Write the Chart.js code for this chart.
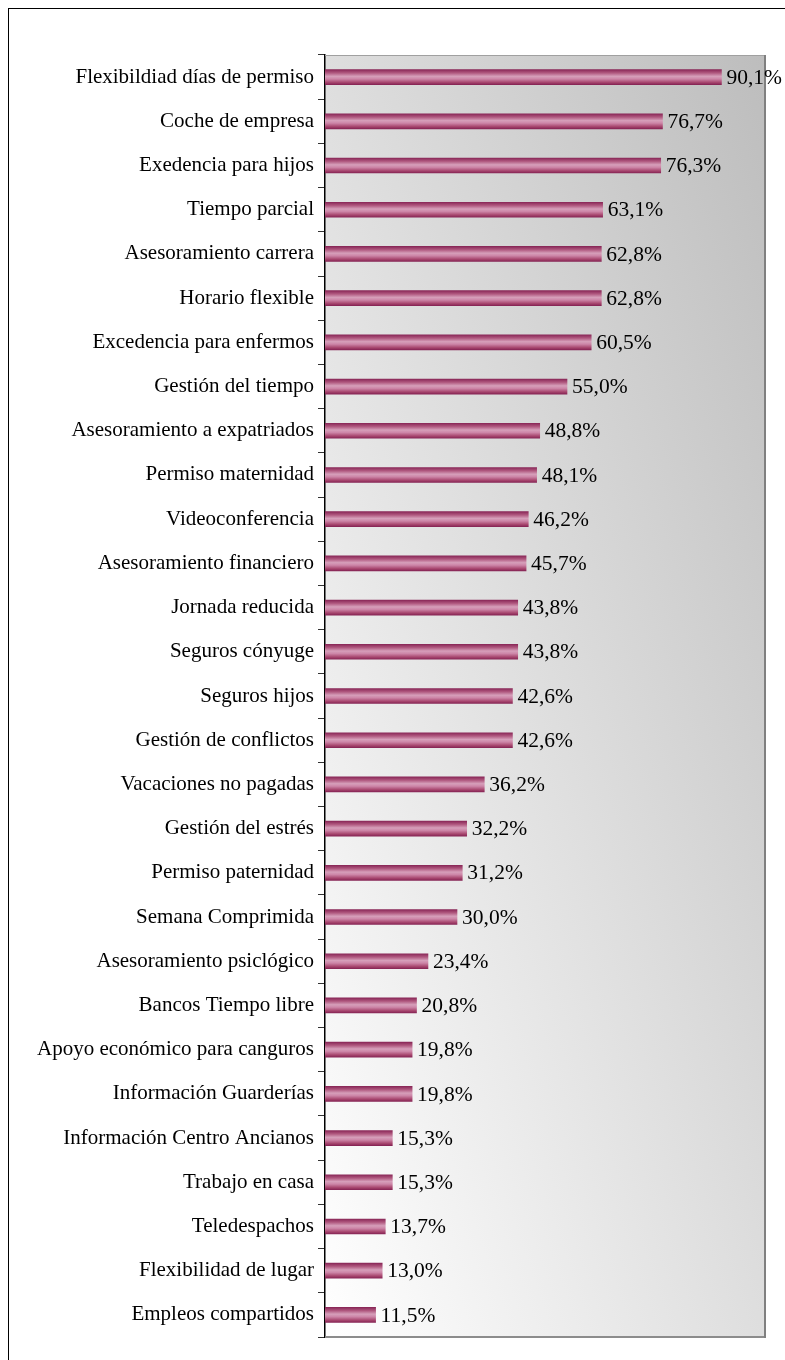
<!DOCTYPE html>
<html><head><meta charset="utf-8">
<script src="https://cdn.jsdelivr.net/npm/chart.js@4/dist/chart.umd.min.js"></script>
<style>
html,body{margin:0;padding:0;background:#fff;}
#wrap{position:relative;width:785px;height:1360px;overflow:hidden;}
#frame{position:absolute;left:8px;top:8px;width:900px;height:1500px;border:1px solid #000;box-sizing:border-box;}
canvas{position:absolute;left:0;top:0;}
</style></head>
<body><div id="wrap"><div id="frame"></div><canvas id="c" width="785" height="1360"></canvas></div>
<script>
const categories = ["Flexibildiad días de permiso","Coche de empresa","Exedencia para hijos","Tiempo parcial","Asesoramiento carrera","Horario flexible","Excedencia para enfermos","Gestión del tiempo","Asesoramiento a expatriados","Permiso maternidad","Videoconferencia","Asesoramiento financiero","Jornada reducida","Seguros cónyuge","Seguros hijos","Gestión de conflictos","Vacaciones no pagadas","Gestión del estrés","Permiso paternidad","Semana Comprimida","Asesoramiento psiclógico","Bancos Tiempo libre","Apoyo económico para canguros","Información Guarderías","Información Centro Ancianos","Trabajo en casa","Teledespachos","Flexibilidad de lugar","Empleos compartidos"];
const values = [90.1,76.7,76.3,63.1,62.8,62.8,60.5,55.0,48.8,48.1,46.2,45.7,43.8,43.8,42.6,42.6,36.2,32.2,31.2,30.0,23.4,20.8,19.8,19.8,15.3,15.3,13.7,13.0,11.5];

const FONT = '"Liberation Serif","Times New Roman",serif';

const bgPlugin = {
  id:'bg',
  beforeDraw(chart){
    const a = chart.chartArea, ctx = chart.ctx;
    ctx.save();
    ctx.translate(a.left, a.top);
    ctx.scale(a.right-a.left, a.bottom-a.top);
    const g = ctx.createLinearGradient(0,1,1,0);
    g.addColorStop(0,'#ffffff');
    g.addColorStop(1,'#bdbdbd');
    ctx.fillStyle = g;
    ctx.fillRect(0,0,1,1);
    ctx.restore();
  },
  afterDatasetsDraw(chart){
    const a = chart.chartArea, ctx = chart.ctx;
    ctx.save();
    ctx.strokeStyle = '#a0a0a0'; ctx.lineWidth = 1;
    ctx.beginPath(); ctx.moveTo(a.left, a.top+0.5); ctx.lineTo(a.right, a.top+0.5); ctx.stroke();
    ctx.strokeStyle = '#8c8c8c'; ctx.lineWidth = 2;
    ctx.beginPath(); ctx.moveTo(a.left, a.bottom); ctx.lineTo(a.right+1, a.bottom); ctx.stroke();
    ctx.strokeStyle = '#808080';
    ctx.beginPath(); ctx.moveTo(a.right, a.top); ctx.lineTo(a.right, a.bottom+1); ctx.stroke();
    const meta = chart.getDatasetMeta(0);
    ctx.fillStyle = '#000';
    ctx.font = '21.5px ' + FONT;
    ctx.textAlign = 'left'; ctx.textBaseline = 'middle';
    meta.data.forEach((el,i)=>{
      const v = chart.data.datasets[0].data[i];
      ctx.fillText(v.toFixed(1).replace('.',',')+'%', el.x+5, el.y+1);
    });
    ctx.restore();
  }
};

function barFill(ctx){
  const chart = ctx.chart;
  if(!chart.chartArea || ctx.dataIndex===undefined) return '#b05a82';
  const y = chart.scales.y.getPixelForValue(ctx.dataIndex);
  const g = chart.ctx.createLinearGradient(0, y-7.5, 0, y+7.5);
  g.addColorStop(0,'#8a2858');
  g.addColorStop(0.22,'#b0587f');
  g.addColorStop(0.45,'#d69fba');
  g.addColorStop(0.62,'#cd86a8');
  g.addColorStop(0.85,'#a8476f');
  g.addColorStop(1,'#872555');
  return g;
}

new Chart(document.getElementById('c'), {
  type:'bar',
  data:{labels:categories, datasets:[{data:values, backgroundColor:barFill, borderWidth:0, barThickness:15}]},
  options:{
    indexAxis:'y', responsive:false, animation:false,
    layout:{padding:{left:0, top:55, right:20, bottom:23}},
    plugins:{legend:{display:false}, tooltip:{enabled:false}},
    scales:{
      x:{display:false, min:0, max:100},
      y:{
        afterFit(s){ s.width = 325; },
        grid:{drawOnChartArea:false, drawTicks:true, tickLength:7, color:'#333', offset:true},
        border:{display:true, color:'#000', width:1.5},
        ticks:{color:'#000', font:{family:FONT, size:21}, padding:4, autoSkip:false}
      }
    }
  },
  plugins:[bgPlugin]
});
</script></body></html>
